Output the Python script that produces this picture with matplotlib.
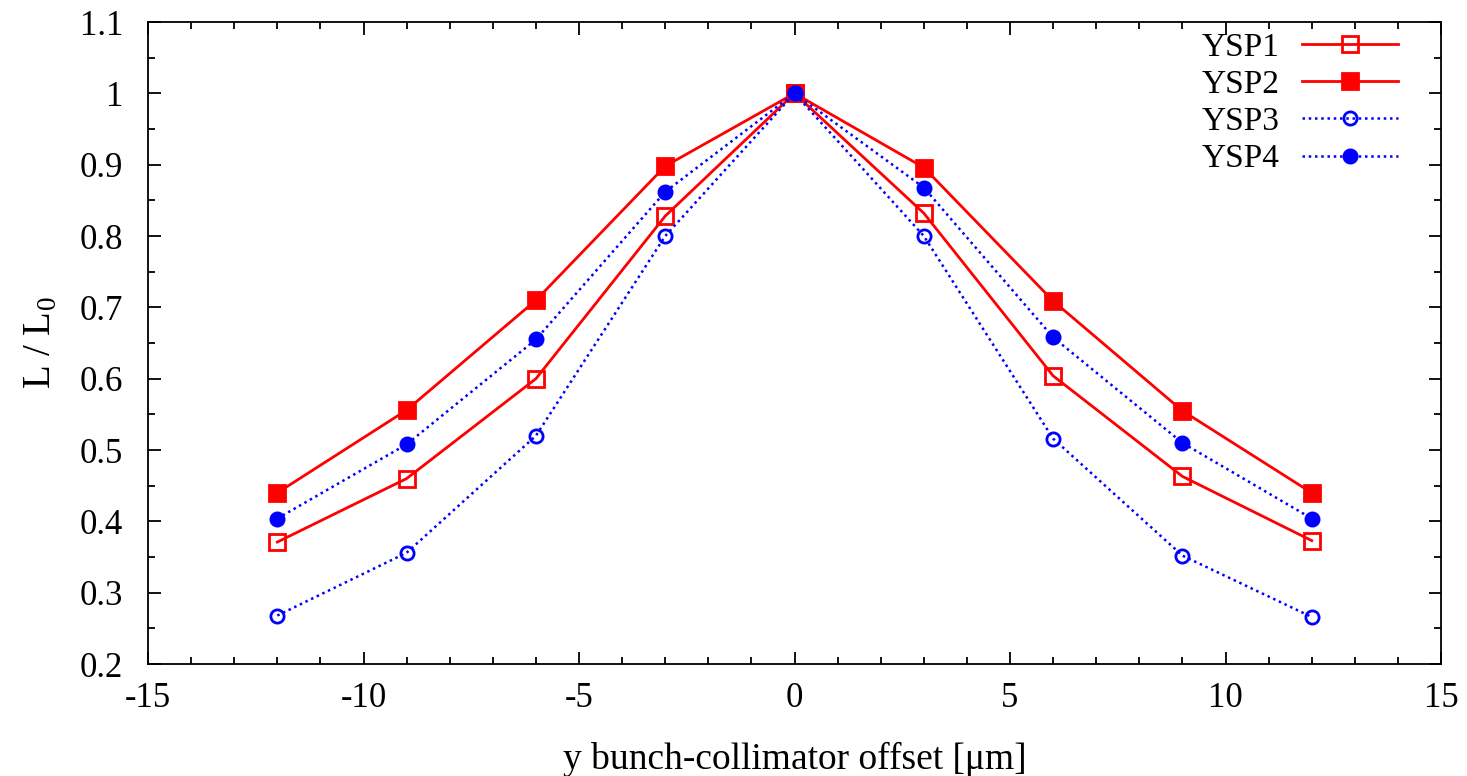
import matplotlib.pyplot as plt
from matplotlib.ticker import MultipleLocator

offset = [-12, -9, -6, -3, 0, 3, 6, 9, 12]
ysp1 = [0.371, 0.460, 0.600, 0.828, 1.0, 0.832, 0.604, 0.463, 0.373]
ysp2 = [0.440, 0.556, 0.710, 0.898, 1.0, 0.896, 0.709, 0.555, 0.440]
ysp3 = [0.268, 0.356, 0.520, 0.800, 1.0, 0.800, 0.516, 0.352, 0.266]
ysp4 = [0.404, 0.508, 0.655, 0.862, 1.0, 0.868, 0.658, 0.510, 0.404]

x_ticks = [-15, -10, -5, 0, 5, 10, 15]
y_ticks = [0.2, 0.3, 0.4, 0.5, 0.6, 0.7, 0.8, 0.9, 1.0, 1.1]
y_tick_labels = ['0.2', '0.3', '0.4', '0.5', '0.6', '0.7', '0.8', '0.9', '1', '1.1']

plt.rcParams['font.family'] = ['Liberation Serif', 'DejaVu Serif']
plt.rcParams['mathtext.fontset'] = 'custom'
plt.rcParams['mathtext.rm'] = 'Liberation Serif'

fig = plt.figure(figsize=(14.67, 7.76), dpi=100)
ax = fig.add_axes([0.1009, 0.1443, 0.8814, 0.8273])

dots = (0, (1, 1.5))
ax.plot(offset, ysp1, color='red', lw=2, marker='s', ms=11, mfc='none', mew=2, label='YSP1')
ax.plot(offset, ysp2, color='red', lw=2, marker='s', ms=11, mew=2, label='YSP2')
ax.plot(offset, ysp3, color='blue', lw=1.8, ls=dots, marker='o', ms=9.5, mfc='none', mew=2, label='YSP3')
ax.plot(offset, ysp4, color='blue', lw=1.8, ls=dots, marker='o', ms=9.5, mew=2, label='YSP4')

ax.set_xlim(-15, 15)
ax.set_ylim(0.2, 1.1)
ax.set_xticks(x_ticks)
ax.set_xticklabels([str(v) for v in x_ticks])
ax.set_yticks(y_ticks)
ax.set_yticklabels(y_tick_labels)
ax.xaxis.set_minor_locator(MultipleLocator(1))
ax.yaxis.set_minor_locator(MultipleLocator(0.05))
ax.tick_params(which='both', direction='in', top=True, right=True, labelsize=25, width=1.3)
ax.tick_params(which='major', length=9)
ax.tick_params(which='minor', length=5)
ax.tick_params(axis='x', which='major', pad=13)
ax.tick_params(axis='y', which='major', pad=18)
for s in ax.spines.values():
    s.set_linewidth(1.3)

ax.set_xlabel('y bunch-collimator offset [\u03bcm]', fontsize=27, labelpad=19)
ax.set_ylabel('L / L$_0$', fontsize=28, labelpad=14)

ax.legend(loc='upper right', bbox_to_anchor=(0.967, 0.984), frameon=False,
          markerfirst=False, fontsize=24, handlelength=2.9, handletextpad=0.66,
          labelspacing=0.2, borderpad=0, borderaxespad=0)

fig.savefig('out.png', dpi=100)
